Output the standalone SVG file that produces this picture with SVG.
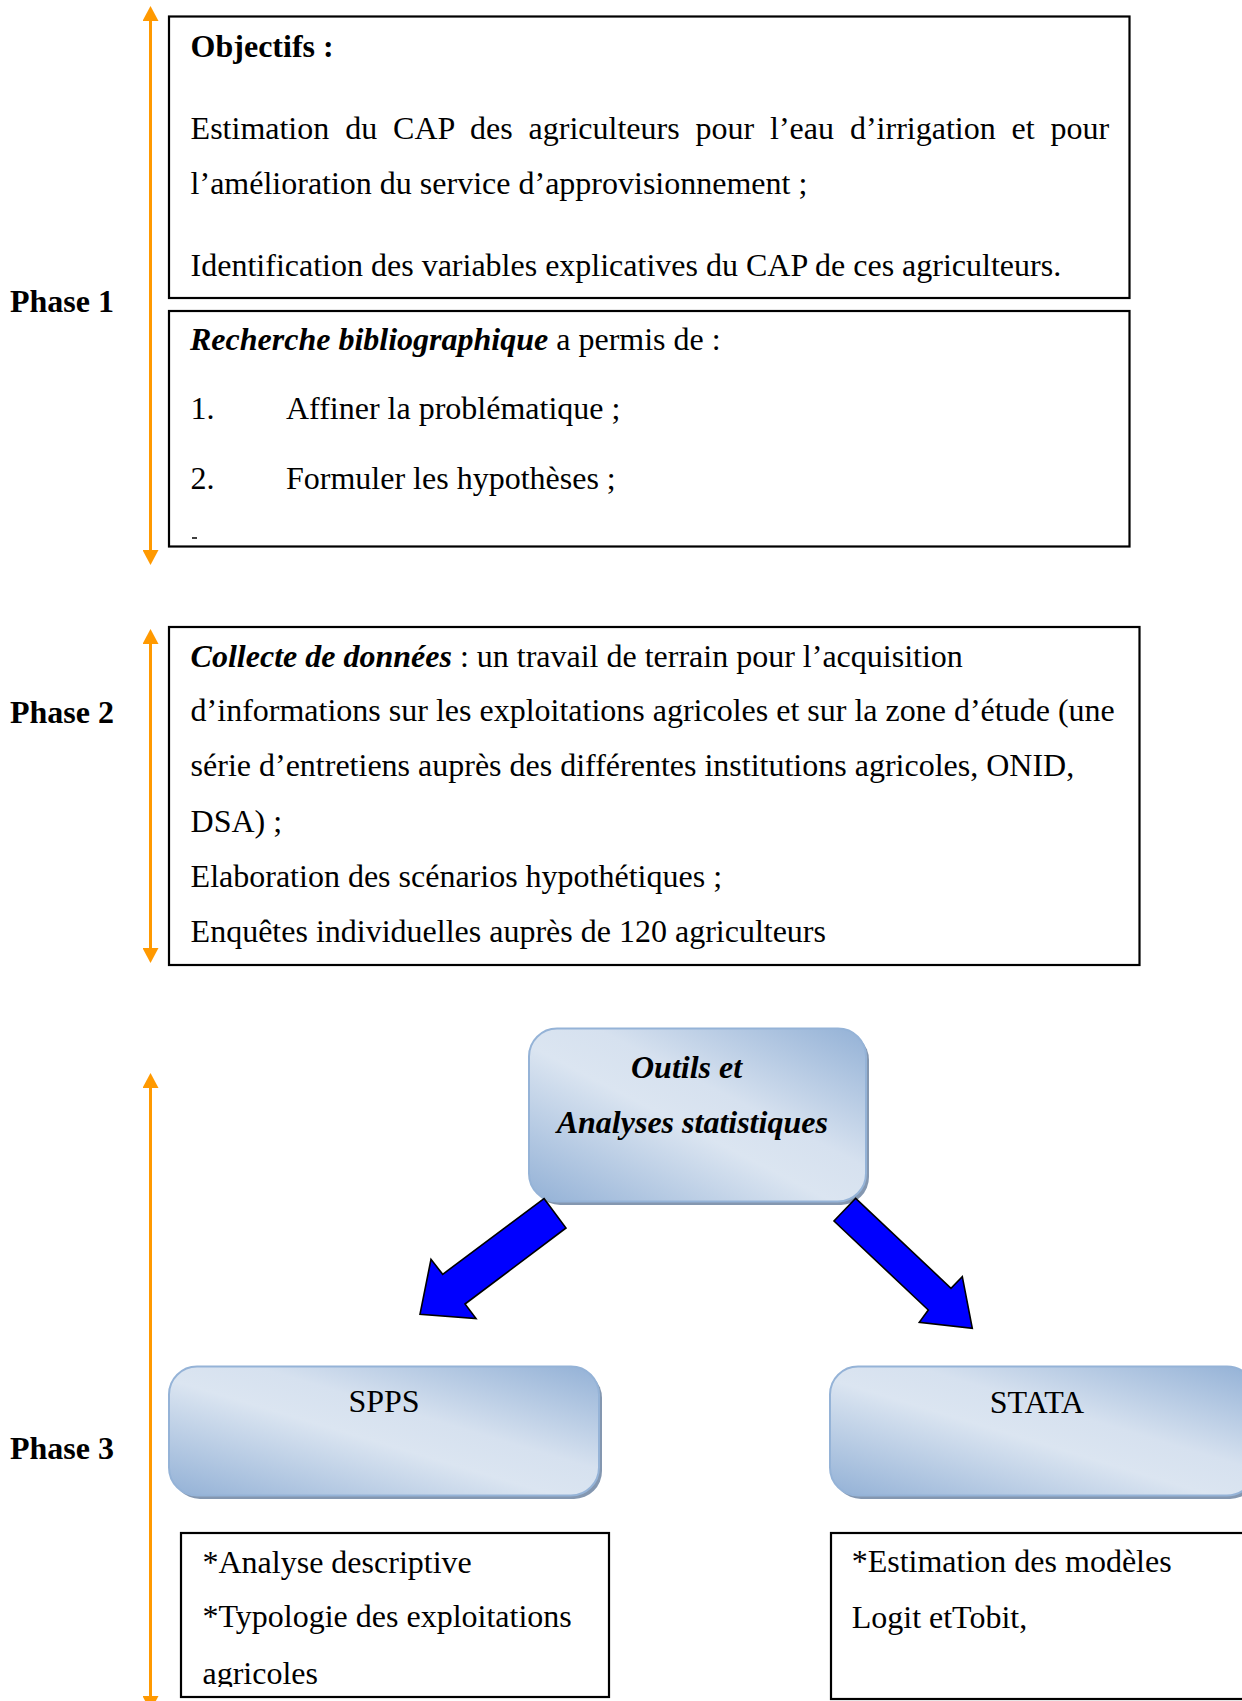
<svg xmlns="http://www.w3.org/2000/svg" width="1242" height="1701" viewBox="0 0 1242 1701">
<style>
  text { font-family: "Liberation Serif", "Times New Roman", serif; font-size: 32px; fill: #000; }
  .b { font-weight: bold; }
  .bi { font-weight: bold; font-style: italic; }
  .box { fill: #fff; stroke: #000; stroke-width: 2.2; }
  .rbox { fill: url(#grad); stroke: #95b3d7; stroke-width: 2; }
  .shadow { fill: #8497b0; }
  .orange { stroke: #ff9900; stroke-width: 3; fill: none; marker-start: url(#oh); marker-end: url(#oh); }
  .blue { fill: #0000ff; stroke: #000; stroke-width: 1.6; stroke-linejoin: miter; }
</style>
<defs>
  <marker id="oh" markerUnits="userSpaceOnUse" markerWidth="16" markerHeight="16" viewBox="0 0 16 16" refX="1" refY="8" orient="auto-start-reverse">
    <path d="M0,0 L15,8 L0,16 Z" fill="#ff9900"/>
  </marker>
  <linearGradient id="grad" x1="0" y1="1" x2="1" y2="0">
    <stop offset="0" stop-color="#93b1d6"/>
    <stop offset="0.45" stop-color="#dbe5f1"/>
    <stop offset="0.6" stop-color="#d6e1ef"/>
    <stop offset="1" stop-color="#93b1d6"/>
  </linearGradient>
  <clipPath id="clipSpps"><rect x="181" y="1533" width="428" height="154"/></clipPath>
</defs>
<rect width="1242" height="1701" fill="#fff"/>

<g id="phase-labels">
  <text class="b" x="10" y="312">Phase 1</text>
  <text class="b" x="10" y="723">Phase 2</text>
  <text class="b" x="10" y="1459">Phase 3</text>
</g>

<g id="phase-arrows">
  <line class="orange" x1="150.5" y1="20" x2="150.5" y2="551"/>
  <line class="orange" x1="150.5" y1="643" x2="150.5" y2="949"/>
  <line class="orange" x1="150.5" y1="1087" x2="150.5" y2="1697"/>
</g>

<g id="objectifs">
  <rect class="box" x="169" y="16.5" width="960.5" height="281.5"/>
  <text class="b" x="190.6" y="57">Objectifs :</text>
  <text x="190.6" y="138.5" word-spacing="7.9">Estimation du CAP des agriculteurs pour l’eau d’irrigation et pour</text>
  <text x="190.6" y="193.5">l’amélioration du service d’approvisionnement ;</text>
  <text x="190.6" y="276">Identification des variables explicatives du CAP de ces agriculteurs.</text>
</g>

<g id="recherche">
  <rect class="box" x="169" y="311" width="960.5" height="235.5"/>
  <text x="190" y="350"><tspan class="bi">Recherche bibliographique</tspan> a permis de :</text>
  <text x="190.6" y="419">1.</text>
  <text x="286" y="419">Affiner la problématique ;</text>
  <text x="190.6" y="488.5">2.</text>
  <text x="286" y="488.5">Formuler les hypothèses ;</text>
  <line x1="192" y1="538" x2="197" y2="538" stroke="#000" stroke-width="1.5"/>
</g>

<g id="collecte">
  <rect class="box" x="169" y="627" width="970.5" height="338"/>
  <text x="190.6" y="666.7"><tspan class="bi">Collecte de données</tspan> : un travail de terrain pour l’acquisition</text>
  <text x="190.6" y="721">d’informations sur les exploitations agricoles et sur la zone d’étude (une</text>
  <text x="190.6" y="776">série d’entretiens auprès des différentes institutions agricoles, ONID,</text>
  <text x="190.6" y="831.5">DSA) ;</text>
  <text x="190.6" y="886.7">Elaboration des scénarios hypothétiques ;</text>
  <text x="190.6" y="941.7">Enquêtes individuelles auprès de 120 agriculteurs</text>
</g>

<g id="outils">
  <rect class="shadow" x="532" y="1032" width="337" height="173" rx="28"/>
  <rect class="rbox" x="529" y="1028.5" width="337" height="173" rx="28"/>
  <text class="bi" x="631" y="1077.5">Outils et</text>
  <text class="bi" x="556.7" y="1132.7">Analyses statistiques</text>
</g>

<g id="spps">
  <rect class="shadow" x="172" y="1370" width="430" height="129" rx="28"/>
  <rect class="rbox" x="169" y="1366.5" width="430" height="129" rx="28"/>
  <text x="384" y="1411.7" text-anchor="middle">SPPS</text>
</g>

<g id="stata">
  <rect class="shadow" x="833" y="1370" width="425" height="129" rx="28"/>
  <rect class="rbox" x="830" y="1366.5" width="425" height="129" rx="28"/>
  <text x="1037" y="1412.7" text-anchor="middle">STATA</text>
</g>

<g id="spps-details">
  <rect class="box" x="181" y="1533" width="428" height="164"/>
  <g clip-path="url(#clipSpps)">
    <text x="202.5" y="1572.7">*Analyse descriptive</text>
    <text x="202.5" y="1627.3">*Typologie des exploitations</text>
    <text x="202.5" y="1683.5">agricoles</text>
  </g>
</g>

<g id="stata-details">
  <rect class="box" x="831" y="1533" width="430" height="166"/>
  <text x="851.7" y="1572">*Estimation des modèles</text>
  <text x="851.7" y="1628.3">Logit etTobit,</text>
</g>

<g id="connectors">
  <path class="blue" d="M544,1198.5 L566,1228 L465,1304 L476,1318.5 L420,1314.3 L431,1259.3 L442.7,1274.3 Z"/>
  <path class="blue" d="M855.7,1198.3 L834,1221 L928.3,1310 L919.3,1322.3 L972.3,1328.3 L962.3,1276.7 L951,1288.3 Z"/>
</g>
</svg>
